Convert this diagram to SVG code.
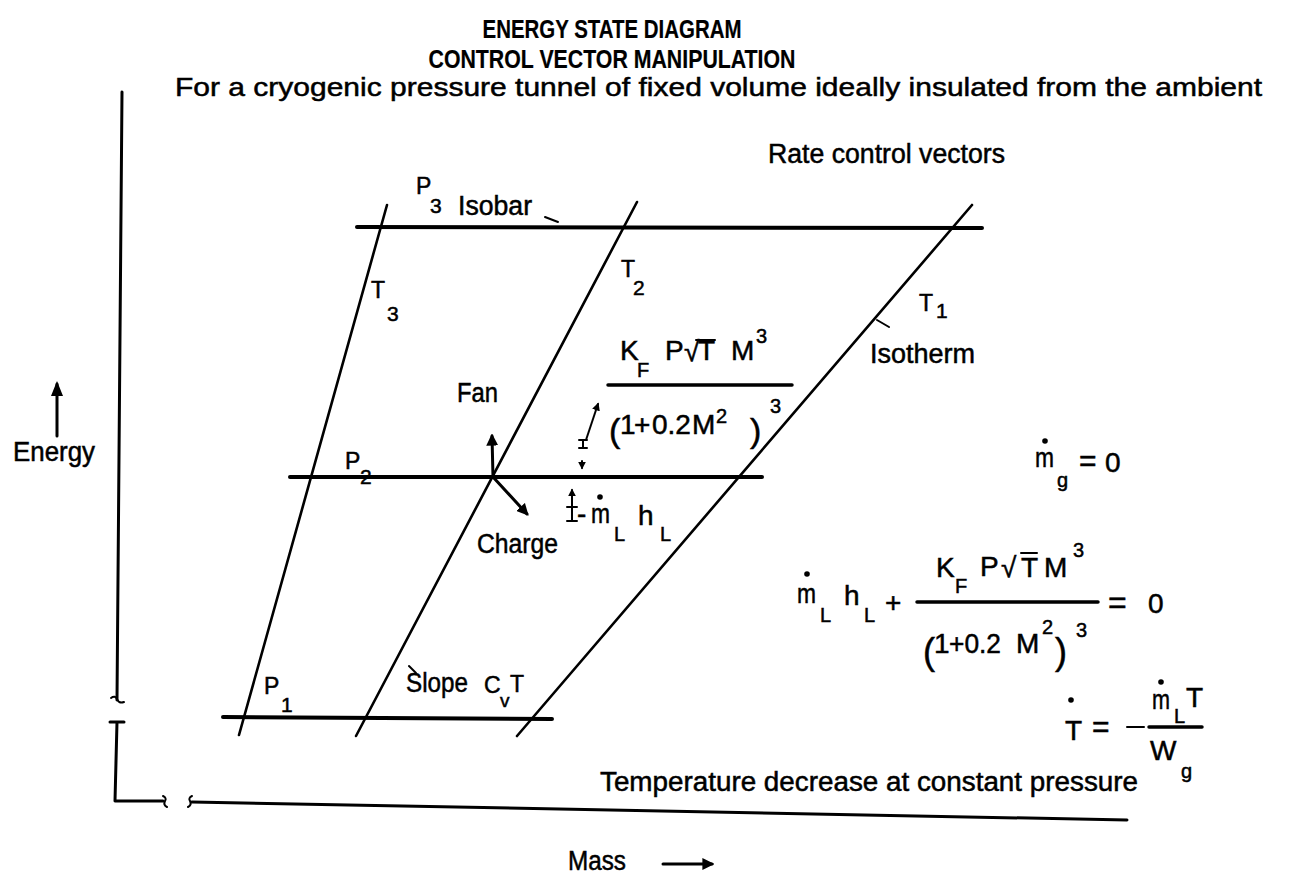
<svg xmlns="http://www.w3.org/2000/svg" width="1289" height="887" viewBox="0 0 1289 887">
<style>
text{font-family:"Liberation Sans",Arial,sans-serif;fill:#000;stroke:#000;stroke-width:0.5}
.hd{font-size:26px;font-weight:bold;stroke-width:0.2}
.lb{font-size:27px}
.sub{font-size:21px}
.m{font-size:28px}
.ms{font-size:20px}
.ln{stroke:#000;fill:none;stroke-linecap:round;stroke-linejoin:round}
.iso{stroke-width:4}
.thm{stroke-width:2.6}
.ax{stroke-width:3}
.bar{stroke-width:3.5}
.thin{stroke-width:2}
</style>
<defs>
<marker id="ah" viewBox="0 0 10 10" refX="8" refY="5" markerWidth="4" markerHeight="4" orient="auto"><path d="M0,0 L10,5 L0,10 z" fill="#000"/></marker>
<marker id="ahs" viewBox="0 0 10 10" refX="8" refY="5" markerWidth="5" markerHeight="5" orient="auto"><path d="M0,1 L10,5 L0,9 z" fill="#000"/></marker>
</defs>
<rect width="1289" height="887" fill="#fff"/>

<g id="title">
<text x="612" y="38" class="hd" text-anchor="middle" textLength="259" lengthAdjust="spacingAndGlyphs">ENERGY STATE DIAGRAM</text>
<text x="612" y="68" class="hd" text-anchor="middle" textLength="367" lengthAdjust="spacingAndGlyphs">CONTROL VECTOR MANIPULATION</text>
<text x="175" y="96" font-size="26" textLength="1087" lengthAdjust="spacingAndGlyphs">For a cryogenic pressure tunnel of fixed volume ideally insulated from the ambient</text>
</g>

<g id="axes">
<path class="ln ax" d="M122,92 L117,700"/>
<path class="ln thin" d="M111,698 q4,-3 6,1 q2,5 7,3"/>
<path class="ln ax" d="M110,722 L124,722 M117,722 L115,801 L163,801"/>
<path class="ln thin" d="M163,796 q4,2 2,5 q-2,4 2,6"/>
<path class="ln thin" d="M192,796 q-4,2 -2,5 q2,4 -2,6"/>
<path class="ln ax" d="M192,802 L1127,820"/>
</g>

<g id="energy-label">
<path class="ln ax" d="M57,436 L57,384" marker-end="url(#ahs)"/>
<text x="13" y="461" class="lb" textLength="82" lengthAdjust="spacingAndGlyphs">Energy</text>
</g>

<g id="mass-label">
<text x="568" y="870" class="lb" textLength="58" lengthAdjust="spacingAndGlyphs">Mass</text>
<path class="ln ax" d="M663,864 L712,864" marker-end="url(#ah)"/>
</g>

<g id="isobars">
<path class="ln iso" d="M357,227 L982,228"/>
<path class="ln iso" d="M290,477 L762,477"/>
<path class="ln iso" d="M223,717 L552,719"/>
<path class="ln thin" d="M545,217 L558,222"/>
</g>

<g id="isotherms">
<path class="ln thm" d="M387,205 L239,735"/>
<path class="ln thm" d="M637,202 L356,736"/>
<path class="ln thm" d="M972,205 L517,736"/>
<path class="ln thin" d="M877,320 L889,327"/>
<path class="ln thin" d="M409,666 L416,673"/>
</g>

<g id="isobar-labels">
<text x="416" y="194" font-size="23">P</text>
<text x="430" y="213" class="sub">3</text>
<text x="458" y="215" class="lb" textLength="74" lengthAdjust="spacingAndGlyphs">Isobar</text>
<text x="345" y="469" font-size="23">P</text>
<text x="360" y="484" class="sub">2</text>
<text x="264" y="694" font-size="23">P</text>
<text x="281" y="712" class="sub">1</text>
</g>

<g id="isotherm-labels">
<text x="371" y="298" font-size="23">T</text>
<text x="387" y="321" class="sub">3</text>
<text x="621" y="277" font-size="23">T</text>
<text x="633" y="295" class="sub">2</text>
<text x="919" y="311" font-size="23">T</text>
<text x="936" y="318" class="sub">1</text>
<text x="870" y="363" class="lb" textLength="105" lengthAdjust="spacingAndGlyphs">Isotherm</text>
<text x="406" y="692" class="lb" textLength="62" lengthAdjust="spacingAndGlyphs">Slope</text>
<text x="484" y="693" font-size="23">C</text>
<text x="500" y="707" font-size="19">v</text>
<text x="510" y="692" font-size="23">T</text>
</g>

<g id="rate-vectors">
<text x="768" y="163" class="lb" textLength="237" lengthAdjust="spacingAndGlyphs">Rate control vectors</text>
</g>

<g id="fan-charge">
<path class="ln ax" d="M493,477 L492,436" marker-end="url(#ah)"/>
<text x="457" y="402" font-size="27" textLength="41" lengthAdjust="spacingAndGlyphs">Fan</text>
<path class="ln ax" d="M493,477 L527,514" marker-end="url(#ah)"/>
<text x="477" y="553" font-size="27" textLength="81" lengthAdjust="spacingAndGlyphs">Charge</text>
</g>

<g id="liquid-vector">
<path class="ln thin" d="M572,506 L572,490" marker-end="url(#ah)"/>
<path class="ln thin" d="M567,507 L577,507 M572,507 L572,521 M567,521 L577,521"/>
<text x="577" y="523" class="m">-</text>
<text x="591" y="523" class="m" textLength="19" lengthAdjust="spacingAndGlyphs">m</text>
<circle cx="600" cy="497" r="2.8" fill="#000"/>
<text x="614" y="541" class="ms">L</text>
<text x="638" y="525" class="m">h</text>
<text x="660" y="541" class="ms">L</text>
</g>

<g id="fan-vector">
<path class="ln thin" d="M582,461 L582,468" marker-end="url(#ah)"/>
<path class="ln thin" d="M579,440 L587,440 M583,440 L583,448 M579,448 L587,448"/>
<path class="ln thin" d="M586,440 L598,404" marker-end="url(#ah)"/>
<text x="620" y="360" class="m">K</text>
<text x="637" y="377" class="ms">F</text>
<text x="665" y="360" class="m">P</text>
<text x="684" y="361" class="m">√</text>
<path class="ln thin" d="M696,340 L715,340"/>
<text x="698" y="360" class="m">T</text>
<text x="731" y="360" class="m">M</text>
<text x="756" y="343" class="ms">3</text>
<path class="ln bar" d="M608,385 L792,385"/>
<text x="609" y="442" font-size="34">(</text>
<text x="620" y="434" class="m">1</text>
<text x="634" y="434" class="m">+</text>
<text x="652" y="434" class="m">0.2</text>
<text x="692" y="434" class="m">M</text>
<text x="716" y="423" class="ms">2</text>
<text x="750" y="442" font-size="34">)</text>
<text x="770" y="413" class="ms">3</text>
</g>

<g id="eq-mg">
<text x="1035" y="467" class="m" textLength="19" lengthAdjust="spacingAndGlyphs">m</text>
<circle cx="1045" cy="441" r="2.8" fill="#000"/>
<text x="1057" y="487" class="ms">g</text>
<text x="1079" y="471" font-size="30">=</text>
<text x="1105" y="472" class="m">0</text>
</g>

<g id="eq-balance">
<text x="797" y="603" class="m" textLength="19" lengthAdjust="spacingAndGlyphs">m</text>
<circle cx="807" cy="574" r="2.8" fill="#000"/>
<text x="820" y="622" class="ms">L</text>
<text x="844" y="605" class="m">h</text>
<text x="864" y="622" class="ms">L</text>
<text x="885" y="612" class="m">+</text>
<text x="936" y="577" class="m">K</text>
<text x="955" y="593" class="ms">F</text>
<text x="980" y="576" class="m">P</text>
<text x="1001" y="577" class="m">√</text>
<path class="ln thin" d="M1021,553 L1037,553"/>
<text x="1021" y="577" class="m">T</text>
<text x="1044" y="577" class="m">M</text>
<text x="1073" y="557" class="ms">3</text>
<path class="ln bar" d="M917,602 L1098,602"/>
<text x="1108" y="613" font-size="32">=</text>
<text x="1148" y="613" class="m">0</text>
<text x="923" y="664" font-size="36">(</text>
<text x="934" y="653" class="m">1</text>
<text x="949" y="653" class="m" textLength="52" lengthAdjust="spacingAndGlyphs">+0.2</text>
<text x="1016" y="653" class="m">M</text>
<text x="1042" y="634" class="ms">2</text>
<text x="1055" y="664" font-size="36">)</text>
<text x="1076" y="637" class="ms">3</text>
</g>

<g id="eq-tdot">
<text x="1065" y="740" class="m">T</text>
<circle cx="1071" cy="700" r="2.8" fill="#000"/>
<text x="1092" y="737" font-size="30">=</text>
<path class="ln thin" d="M1127,727 L1144,727"/>
<path class="ln bar" d="M1149,727 L1202,727"/>
<text x="1152" y="709" class="m" textLength="18" lengthAdjust="spacingAndGlyphs">m</text>
<circle cx="1161" cy="682" r="2.8" fill="#000"/>
<text x="1174" y="723" class="ms">L</text>
<text x="1186" y="707" class="m">T</text>
<text x="1150" y="760" class="m">W</text>
<text x="1181" y="778" class="ms">g</text>
</g>

<g id="temp-decrease">
<text x="600" y="791" class="lb" textLength="538" lengthAdjust="spacingAndGlyphs">Temperature decrease at constant pressure</text>
</g>
</svg>
